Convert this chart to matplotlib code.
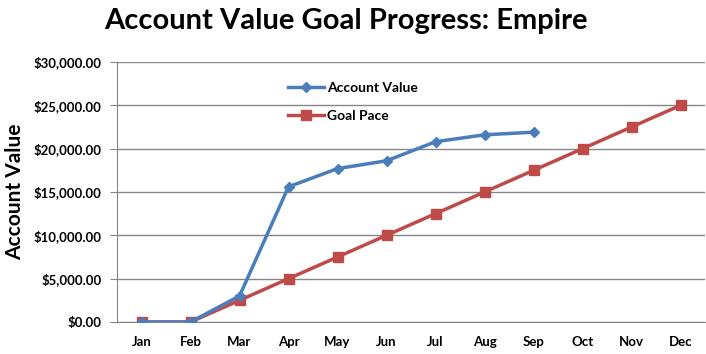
import matplotlib.pyplot as plt
from matplotlib.ticker import FuncFormatter

months = ["Jan", "Feb", "Mar", "Apr", "May", "Jun",
          "Jul", "Aug", "Sep", "Oct", "Nov", "Dec"]
account_value = [0, 0, 3000, 15600, 17700, 18600, 20800, 21600, 21900]
goal_pace = [0, 0, 2500, 5000, 7500, 10000, 12500, 15000, 17500, 20000, 22500, 25000]
y_ticks = [0, 5000, 10000, 15000, 20000, 25000, 30000]

plt.rcParams["font.family"] = ["Lato", "DejaVu Sans"]
plt.rcParams["font.weight"] = "bold"

fig = plt.figure(figsize=(7.06, 3.54), dpi=100)
ax = fig.add_axes([117 / 706, 1 - 322 / 354, 588 / 706, 260 / 354])

x_acc = list(range(len(account_value)))
x_goal = list(range(len(goal_pace)))
ax.plot(x_acc, account_value, color="#4A7EBB", lw=2.5, marker="D", ms=5,
        label="Account Value", zorder=3)
ax.plot(x_goal, goal_pace, color="#BE4B48", lw=2.5, marker="s", ms=7.5,
        label="Goal Pace", zorder=2)

ax.set_xlim(-0.5, 11.5)
ax.set_ylim(0, 30000)
ax.set_xticks(x_goal)
ax.set_xticklabels(months)
ax.set_yticks(y_ticks)
ax.yaxis.set_major_formatter(FuncFormatter(lambda v, p: "${:,.2f}".format(v)))
ax.grid(axis="y", color="#868686", lw=1)
ax.set_axisbelow(True)
for s in ["top", "right"]:
    ax.spines[s].set_visible(False)
for s in ["left", "bottom"]:
    ax.spines[s].set_color("#868686")
ax.tick_params(axis="y", length=5, color="#868686", labelsize=9.5, pad=6)
ax.tick_params(axis="x", length=0, labelsize=9.5, pad=10)
ax.set_ylabel("Account Value", fontsize=15, fontweight="bold", labelpad=6)

fig.text(0.49, 0.94, "Account Value Goal Progress: Empire", ha="center",
         va="center", fontsize=21, fontweight="bold")

ax.legend(loc="upper left", bbox_to_anchor=(0.27, 0.97), frameon=False,
          handlelength=2.6, labelspacing=1.1, handletextpad=0.2,
          prop={"weight": "bold", "size": 10})

fig.savefig("out.png", dpi=100)
